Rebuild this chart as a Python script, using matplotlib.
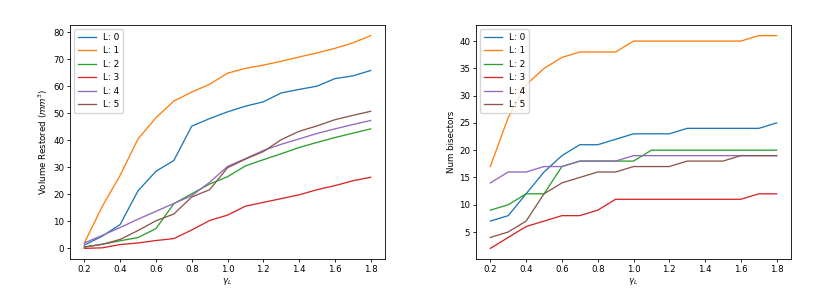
import numpy as np
import matplotlib.pyplot as plt

#### data ####
gamma = [0.2, 0.3, 0.4, 0.5, 0.6, 0.7, 0.8, 0.9, 1.0, 1.1, 1.2, 1.3, 1.4, 1.5, 1.6, 1.7, 1.8]
labels = ['L: 0', 'L: 1', 'L: 2', 'L: 3', 'L: 4', 'L: 5']

vol_l0 = [1.2, 4.5, 8.8, 21.3, 28.5, 32.5, 45.2, 48.0, 50.5, 52.6, 54.2, 57.5, 58.8, 60.0, 62.8, 63.8, 65.8]
vol_l1 = [2.0, 15.5, 27.0, 40.5, 48.3, 54.5, 57.8, 60.7, 64.8, 66.6, 67.8, 69.2, 70.8, 72.3, 74.0, 76.0, 78.7]
vol_l2 = [0.5, 1.5, 2.8, 4.0, 7.3, 16.5, 20.2, 23.8, 26.5, 30.5, 32.8, 35.0, 37.3, 39.2, 41.0, 42.6, 44.2]
vol_l3 = [0.0, 0.2, 1.4, 2.0, 2.9, 3.6, 6.8, 10.3, 12.3, 15.6, 17.0, 18.4, 19.8, 21.7, 23.2, 25.0, 26.3]
vol_l4 = [2.0, 4.8, 7.7, 10.8, 13.7, 16.6, 19.5, 24.4, 30.3, 33.2, 36.2, 38.5, 40.5, 42.5, 44.2, 45.8, 47.3]
vol_l5 = [0.5, 1.5, 3.3, 6.6, 10.2, 12.7, 19.0, 21.7, 29.8, 33.0, 35.8, 40.2, 43.3, 45.3, 47.6, 49.2, 50.7]

bis_l0 = [7, 8, 12, 16, 19, 21, 21, 22, 23, 23, 23, 24, 24, 24, 24, 24, 25]
bis_l1 = [17, 26, 32, 35, 37, 38, 38, 38, 40, 40, 40, 40, 40, 40, 40, 41, 41]
bis_l2 = [9, 10, 12, 12, 17, 18, 18, 18, 18, 20, 20, 20, 20, 20, 20, 20, 20]
bis_l3 = [2, 4, 6, 7, 8, 8, 9, 11, 11, 11, 11, 11, 11, 11, 11, 12, 12]
bis_l4 = [14, 16, 16, 17, 17, 18, 18, 18, 19, 19, 19, 19, 19, 19, 19, 19, 19]
bis_l5 = [4, 5, 7, 12, 14, 15, 16, 16, 17, 17, 17, 18, 18, 18, 19, 19, 19]

volumes = [vol_l0, vol_l1, vol_l2, vol_l3, vol_l4, vol_l5]
bisectors = [bis_l0, bis_l1, bis_l2, bis_l3, bis_l4, bis_l5]

fs = 6.2
lw = 0.95
plt.rcParams['font.size'] = fs
plt.rcParams['axes.linewidth'] = 0.6
plt.rcParams['xtick.major.width'] = 0.6
plt.rcParams['ytick.major.width'] = 0.6
plt.rcParams['xtick.major.size'] = 2.2
plt.rcParams['ytick.major.size'] = 2.2

fig = plt.figure(figsize=(8.3, 2.95), dpi=100)
ax1 = fig.add_axes([70 / 830, 1 - 259 / 295, 315 / 830, 234 / 295])
ax2 = fig.add_axes([476 / 830, 1 - 259 / 295, 315 / 830, 234 / 295])

#### left: volume restored ####
for y, lab in zip(volumes, labels):
    ax1.plot(gamma, y, label=lab, linewidth=lw)
ax1.set_xlabel(r'$\gamma_L$', fontsize=fs, labelpad=1.5)
ax1.set_ylabel(r'Volume Restored ($mm^3$)', fontsize=fs, labelpad=2)
ax1.set_xticks(np.arange(0.2, 1.81, 0.2))
ax1.legend(loc='upper left', fontsize=6.4, handlelength=2.0)
ax1.tick_params(labelsize=fs, pad=2)

#### right: number of bisectors ####
for y, lab in zip(bisectors, labels):
    ax2.plot(gamma, y, label=lab, linewidth=lw)
ax2.set_xlabel(r'$\gamma_L$', fontsize=fs, labelpad=1.5)
ax2.set_ylabel('Num bisectors', fontsize=fs, labelpad=2)
ax2.set_xticks(np.arange(0.2, 1.81, 0.2))
ax2.legend(loc='upper left', fontsize=6.4, handlelength=2.0)
ax2.tick_params(labelsize=fs, pad=2)

plt.savefig('out.png', dpi=100)
